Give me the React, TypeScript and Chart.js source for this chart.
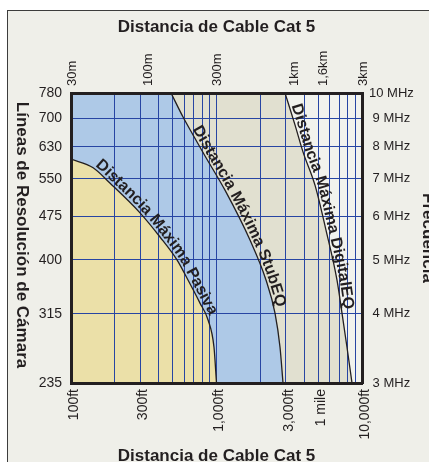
import React, { useEffect, useRef } from 'react';
import { Chart, registerables } from 'chart.js';

Chart.register(...registerables);

// ---------------- data (distance in ft, frequency in MHz) ----------------
const PASSIVE_FT = [100, 142, 185, 298, 409, 535, 637, 770, 874, 961, 1000];
const PASSIVE_MHZ = [7.6, 7.33, 6.88, 6.08, 5.5, 5.0, 4.6, 4.18, 3.9, 3.48, 3.0];

const STUB_FT = [487, 589, 690, 834, 1144, 1699, 2189, 2524, 2732, 2865];
const STUB_MHZ = [10, 9.05, 8.4, 7.7, 6.68, 5.43, 4.6, 4.01, 3.48, 3.0];

const DIGITAL_FT = [2957, 3463, 3930, 4753, 5656, 6733, 7288, 7886, 8537];
const DIGITAL_MHZ = [10, 8.76, 7.83, 6.82, 5.66, 4.6, 4.01, 3.48, 3.0];

const CURVE_NAMES = ['Distancia Máxima Pasiva', 'Distancia Máxima StubEQ', 'Distancia Máxima DigitalEQ'];

const FT_GRID = [100, 200, 300, 400, 500, 600, 700, 800, 900, 1000, 2000, 3000, 4000, 5000, 6000, 7000, 8000, 9000, 10000];
const FT_LABEL_AT = [100, 300, 1000, 3000, 5000, 10000];
const FT_LABELS = ['100ft', '300ft', '1,000ft', '3,000ft', '1 mile', '10,000ft'];

const METRIC_AT_FT = [98.4, 328.1, 984.3, 3280.8, 5249.3, 9842.5];
const METRIC_LABELS = ['30m', '100m', '300m', '1km', '1,6km', '3km'];

const MHZ_TICKS = [3, 4, 5, 6, 7, 8, 9, 10];
const TVL_LABELS = ['235', '315', '400', '475', '550', '630', '700', '780'];
const MHZ_LABELS = ['3 MHz', '4 MHz', '5 MHz', '6 MHz', '7 MHz', '8 MHz', '9 MHz', '10 MHz'];

const TITLE_X = 'Distancia de Cable Cat 5';
const TITLE_LEFT = 'Líneas de Resolución de Cámara';
const TITLE_RIGHT = 'Frecuencia';

// ---------------- styles ----------------
const FONT = '"Liberation Sans", Arial, Helvetica, sans-serif';
const DARK = '#231f20';
const GRID = '#2745a3';
const YELLOW = '#ebe0a8';
const BLUE = '#aec9e7';
const BEIGE = '#e1e0d0';
const LIGHT = '#f1f2ed';
const FRAME_BG = '#efefe9';
const REGION_COLORS = [YELLOW, BLUE, BEIGE];
const LABEL_START = [24, 42, 14];
const LABEL_GAP = 2.5;

const W = 440;
const H = 475;
const AXIS_LEFT_W = 71;
const AXIS_RIGHT_W = 78;
const AXIS_TOP_H = 93;
const AXIS_BOTTOM_H = 92;

function samplePolyline(pts: any[]) {
  const out: { x: number; y: number }[] = [];
  for (let i = 0; i < pts.length - 1; i++) {
    const a = pts[i];
    const b = pts[i + 1];
    const c1x = a.cp2x ?? a.x, c1y = a.cp2y ?? a.y;
    const c2x = b.cp1x ?? b.x, c2y = b.cp1y ?? b.y;
    for (let k = 0; k < 24; k++) {
      const t = k / 24, u = 1 - t;
      out.push({
        x: u * u * u * a.x + 3 * u * u * t * c1x + 3 * u * t * t * c2x + t * t * t * b.x,
        y: u * u * u * a.y + 3 * u * u * t * c1y + 3 * u * t * t * c2y + t * t * t * b.y,
      });
    }
  }
  const last = pts[pts.length - 1];
  out.push({ x: last.x, y: last.y });
  return out;
}

function drawAlong(ctx: CanvasRenderingContext2D, poly: { x: number; y: number }[], text: string, start: number, gap: number) {
  const cum = [0];
  for (let i = 1; i < poly.length; i++) {
    cum.push(cum[i - 1] + Math.hypot(poly[i].x - poly[i - 1].x, poly[i].y - poly[i - 1].y));
  }
  const at = (s: number) => {
    let j = 0;
    while (j < poly.length - 2 && cum[j + 1] < s) j++;
    const seg = cum[j + 1] - cum[j] || 1;
    const t = (s - cum[j]) / seg;
    const p = poly[j], q = poly[j + 1];
    return { x: p.x + (q.x - p.x) * t, y: p.y + (q.y - p.y) * t, a: Math.atan2(q.y - p.y, q.x - p.x) };
  };
  ctx.save();
  ctx.font = `bold 16px ${FONT}`;
  ctx.fillStyle = DARK;
  ctx.textAlign = 'center';
  ctx.textBaseline = 'alphabetic';
  for (let i = 0; i < text.length; i++) {
    const x0 = ctx.measureText(text.slice(0, i)).width;
    const x1 = ctx.measureText(text.slice(0, i + 1)).width;
    const p = at(start + (x0 + x1) / 2);
    ctx.save();
    ctx.translate(p.x, p.y);
    ctx.rotate(p.a);
    ctx.fillText(text[i], 0, -gap);
    ctx.restore();
  }
  ctx.restore();
}

const regionPlugin = {
  id: 'regions',
  beforeDraw(chart: any) {
    const ca = chart.chartArea;
    const ctx = chart.ctx as CanvasRenderingContext2D;
    ctx.save();
    ctx.fillStyle = LIGHT;
    ctx.fillRect(ca.left, ca.top, ca.right - ca.left, ca.bottom - ca.top);
    ctx.beginPath();
    ctx.rect(ca.left, ca.top, ca.right - ca.left, ca.bottom - ca.top);
    ctx.clip();
    [2, 1, 0].forEach((idx) => {
      const line = chart.getDatasetMeta(idx).dataset;
      line.updateControlPoints(ca, 'x');
      ctx.beginPath();
      line.path(ctx);
      ctx.lineTo(ca.left, ca.bottom);
      ctx.lineTo(ca.left, ca.top);
      ctx.closePath();
      ctx.fillStyle = REGION_COLORS[idx];
      ctx.fill();
    });
    ctx.restore();
  },
};

const labelPlugin = {
  id: 'curveLabels',
  afterDatasetsDraw(chart: any) {
    const ctx = chart.ctx as CanvasRenderingContext2D;
    CURVE_NAMES.forEach((name, idx) => {
      const meta = chart.getDatasetMeta(idx);
      const poly = samplePolyline(meta.data);
      drawAlong(ctx, poly, name, LABEL_START[idx], LABEL_GAP);
    });
  },
  afterDraw(chart: any) {
    const ctx = chart.ctx as CanvasRenderingContext2D;
    const ca = chart.chartArea;
    const ys = chart.scales.y;
    ctx.save();
    ctx.translate(ys.left + 22, (ca.top + ca.bottom) / 2 - 3);
    ctx.rotate(Math.PI / 2);
    ctx.font = `bold 17px ${FONT}`;
    ctx.fillStyle = DARK;
    ctx.textAlign = 'center';
    ctx.textBaseline = 'middle';
    ctx.fillText(TITLE_LEFT, 0, 0);
    ctx.restore();
  },
};

const pick = (values: number[], labels: string[]) => (v: any) => {
  const i = values.findIndex((x) => Math.abs(x - Number(v)) < 1e-6);
  return i >= 0 ? labels[i] : '';
};

export default function App() {
  const ref = useRef<HTMLCanvasElement>(null);

  useEffect(() => {
    const mk = (xs: number[], ys: number[]) => xs.map((x, i) => ({ x, y: ys[i] }));
    const lineStyle = {
      borderColor: DARK,
      borderWidth: 1.3,
      pointRadius: 0,
      fill: false,
      cubicInterpolationMode: 'monotone' as const,
    };
    const chart = new Chart(ref.current as HTMLCanvasElement, {
      type: 'line',
      data: {
        datasets: [
          { label: CURVE_NAMES[0], data: mk(PASSIVE_FT, PASSIVE_MHZ), ...lineStyle },
          { label: CURVE_NAMES[1], data: mk(STUB_FT, STUB_MHZ), ...lineStyle },
          { label: CURVE_NAMES[2], data: mk(DIGITAL_FT, DIGITAL_MHZ), ...lineStyle },
        ],
      },
      options: {
        responsive: false,
        animation: false,
        events: [],
        layout: { padding: 0 },
        plugins: { legend: { display: false }, tooltip: { enabled: false } },
        scales: {
          x: {
            type: 'logarithmic',
            position: 'bottom',
            min: 100,
            max: 10000,
            afterBuildTicks: (s: any) => { s.ticks = FT_GRID.map((v) => ({ value: v })); },
            afterFit: (s: any) => { s.height = AXIS_BOTTOM_H; },
            grid: { color: GRID, lineWidth: 1, drawTicks: false },
            border: { display: true, color: DARK, width: 3 },
            ticks: {
              autoSkip: false, minRotation: 90, maxRotation: 90, padding: 6, labelOffset: 3,
              font: { family: FONT, size: 14 }, color: DARK,
              callback: pick(FT_LABEL_AT, FT_LABELS),
            },
            title: {
              display: true, text: TITLE_X, color: DARK,
              font: { family: FONT, size: 17, weight: 'bold' },
              padding: { top: 0, bottom: 8.5 },
            },
          },
          x2: {
            type: 'logarithmic',
            position: 'top',
            min: 100,
            max: 10000,
            afterBuildTicks: (s: any) => { s.ticks = METRIC_AT_FT.map((v) => ({ value: v })); },
            afterFit: (s: any) => { s.height = AXIS_TOP_H; },
            grid: { display: false, drawTicks: false },
            border: { display: true, color: DARK, width: 3 },
            ticks: {
              autoSkip: false, minRotation: 90, maxRotation: 90, padding: 7, labelOffset: 18,
              font: { family: FONT, size: 13 }, color: DARK,
              callback: pick(METRIC_AT_FT, METRIC_LABELS),
            },
            title: {
              display: true, text: TITLE_X, color: DARK,
              font: { family: FONT, size: 17, weight: 'bold' },
              padding: { top: 17, bottom: 0 },
            },
          },
          y: {
            type: 'logarithmic',
            position: 'left',
            min: 3,
            max: 10,
            afterBuildTicks: (s: any) => { s.ticks = MHZ_TICKS.map((v) => ({ value: v })); },
            afterFit: (s: any) => { s.width = AXIS_LEFT_W; },
            grid: { color: GRID, lineWidth: 1, drawTicks: false },
            border: { display: true, color: DARK, width: 3 },
            ticks: {
              autoSkip: false, padding: 9,
              font: { family: FONT, size: 14 }, color: DARK,
              callback: pick(MHZ_TICKS, TVL_LABELS),
            },
            title: { display: false },
          },
          y2: {
            type: 'logarithmic',
            position: 'right',
            min: 3,
            max: 10,
            afterBuildTicks: (s: any) => { s.ticks = MHZ_TICKS.map((v) => ({ value: v })); },
            afterFit: (s: any) => { s.width = AXIS_RIGHT_W; },
            grid: { display: false, drawTicks: false },
            border: { display: true, color: DARK, width: 3 },
            ticks: {
              autoSkip: false, padding: 7, crossAlign: 'center',
              font: { family: FONT, size: 13 }, color: DARK,
              callback: pick(MHZ_TICKS, MHZ_LABELS),
            },
            title: {
              display: true, text: TITLE_RIGHT, color: DARK,
              font: { family: FONT, size: 17, weight: 'bold' },
              padding: { top: 1.9, bottom: 0 },
            },
          },
        },
      } as any,
      plugins: [regionPlugin, labelPlugin],
    });
    return () => chart.destroy();
  }, []);

  return (
    <div style={{ position: 'fixed', left: 0, top: 0, width: W, height: H, background: '#ffffff', overflow: 'hidden' }}>
      <div
        style={{
          position: 'absolute', left: 7, top: 10, width: W, height: H,
          borderLeft: '1.5px solid #3c3c3c', borderTop: '1.5px solid #3c3c3c', background: FRAME_BG,
        }}
      />
      <canvas ref={ref} width={W} height={H} style={{ position: 'absolute', left: 0, top: 0 }} />
    </div>
  );
}
